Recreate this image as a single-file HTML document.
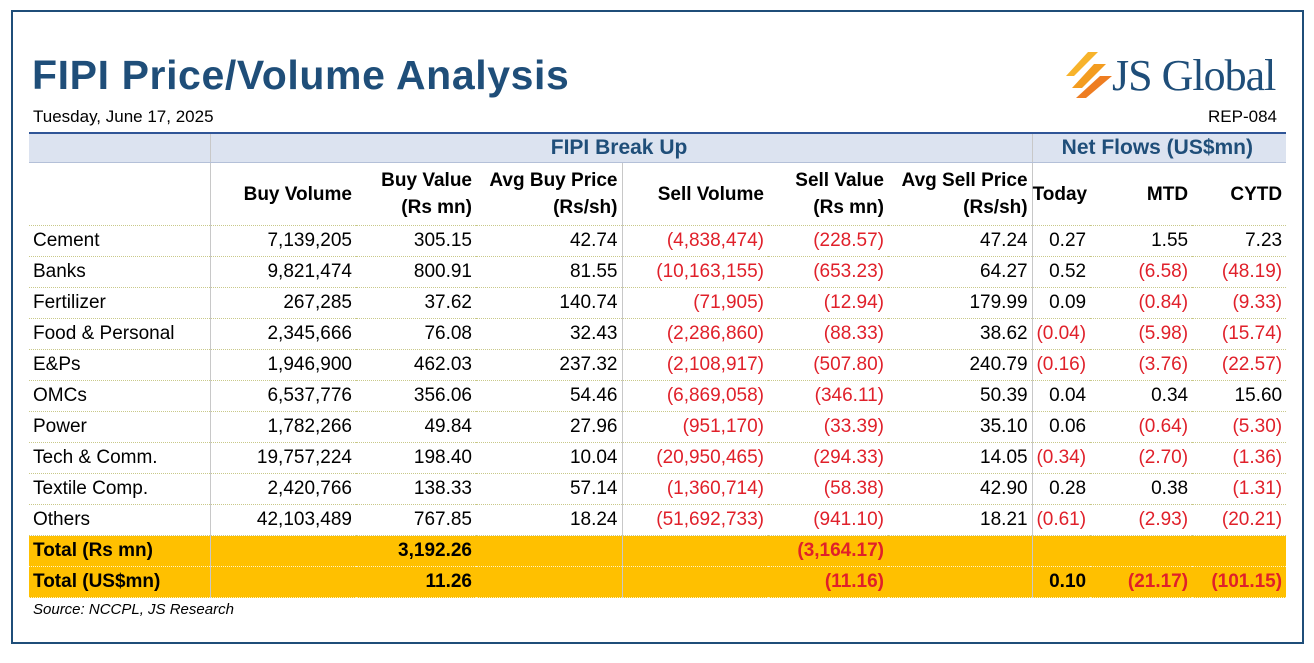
<!DOCTYPE html>
<html><head><meta charset="utf-8"><style>
body{margin:0;width:1314px;height:663px;background:#fff;font-family:"Liberation Sans",sans-serif;position:relative;overflow:hidden}
#frame{position:absolute;left:11px;top:10px;width:1289px;height:630px;border:2px solid #1f4e79}
#title{position:absolute;left:32px;top:52px;font-size:41px;font-weight:bold;color:#1f4e79;letter-spacing:0.6px}
#date{position:absolute;left:33px;top:107px;font-size:17px;color:#000}
#rep{position:absolute;right:37px;top:107px;font-size:17px;color:#000}
#logo{position:absolute;left:1066px;top:50px}
#logotxt{position:absolute;left:1112px;top:50px;font-family:"Liberation Serif",serif;font-size:44px;color:#1f4e79;letter-spacing:-1px}
table{position:absolute;left:29px;top:132px;width:1257px;border-collapse:collapse;table-layout:fixed;font-size:19px}
td{padding:0 4px 0 0;text-align:right;white-space:nowrap;border-bottom:1px dotted #c9c98a;height:30px;overflow:visible}
td.l{text-align:left;padding-left:4px}
.band td{background:#dce3f0;border-top:2px solid #2f5597;border-bottom:1px solid #b4c0d8;height:28px;text-align:center;color:#1f4e79;font-weight:bold;font-size:21px}
.hd td{font-weight:bold;height:62px;line-height:27px;font-size:19px}
.s{border-left:1px solid #c8c8c8}
.r{color:#e0202a}
.tot td{background:#ffc000;font-weight:bold;border-bottom:1px dotted #fff3c0}
#src{position:absolute;left:33px;top:601px;font-size:15px;font-style:italic}
</style></head><body>
<div id="frame"></div>
<div id="title">FIPI Price/Volume Analysis</div>
<div id="date">Tuesday, June 17, 2025</div>
<div id="rep">REP-084</div>
<svg id="logo" width="50" height="50">
<polygon points="22,2 32,2 8,26 0,26" fill="#f7b32b"/>
<polygon points="28,14 40,14 16,38 6,38" fill="#f39c1f"/>
<polygon points="34,26 46,26 20,48 10,48" fill="#ee7d22"/>
</svg>
<div id="logotxt">JS Global</div>
<table>
<colgroup><col style="width:181px"><col style="width:146px"><col style="width:120px"><col style="width:146px"><col style="width:146px"><col style="width:120px"><col style="width:144px"><col style="width:58px"><col style="width:102px"><col style="width:94px"></colgroup>
<tr class="band"><td></td><td class="s" colspan="6">FIPI Break Up</td><td class="s" colspan="3">Net Flows (US$mn)</td></tr>
<tr class="hd"><td></td><td class="s">Buy Volume</td><td>Buy Value<br>(Rs mn)</td><td>Avg Buy Price<br>(Rs/sh)</td><td class="s">Sell Volume</td><td>Sell Value<br>(Rs mn)</td><td>Avg Sell Price<br>(Rs/sh)</td><td class="s">Today</td><td>MTD</td><td>CYTD</td></tr>
<tbody id="body"></tbody>
</table>
<div id="src">Source: NCCPL, JS Research</div>
<script>
const sectors=["Cement","Banks","Fertilizer","Food & Personal","E&Ps","OMCs","Power","Tech & Comm.","Textile Comp.","Others"];
const buyVol=["7,139,205","9,821,474","267,285","2,345,666","1,946,900","6,537,776","1,782,266","19,757,224","2,420,766","42,103,489"];
const buyVal=["305.15","800.91","37.62","76.08","462.03","356.06","49.84","198.40","138.33","767.85"];
const avgBuy=["42.74","81.55","140.74","32.43","237.32","54.46","27.96","10.04","57.14","18.24"];
const sellVol=["(4,838,474)","(10,163,155)","(71,905)","(2,286,860)","(2,108,917)","(6,869,058)","(951,170)","(20,950,465)","(1,360,714)","(51,692,733)"];
const sellVal=["(228.57)","(653.23)","(12.94)","(88.33)","(507.80)","(346.11)","(33.39)","(294.33)","(58.38)","(941.10)"];
const avgSell=["47.24","64.27","179.99","38.62","240.79","50.39","35.10","14.05","42.90","18.21"];
const today=["0.27","0.52","0.09","(0.04)","(0.16)","0.04","0.06","(0.34)","0.28","(0.61)"];
const mtd=["1.55","(6.58)","(0.84)","(5.98)","(3.76)","0.34","(0.64)","(2.70)","0.38","(2.93)"];
const cytd=["7.23","(48.19)","(9.33)","(15.74)","(22.57)","15.60","(5.30)","(1.36)","(1.31)","(20.21)"];
const totals=[["Total (Rs mn)","","3,192.26","","","(3,164.17)","","","",""],["Total (US$mn)","","11.26","","","(11.16)","","0.10","(21.17)","(101.15)"]];
const body=document.getElementById('body');
const sep=[1,4,7];
function cell(tr,v,i){const td=document.createElement('td');td.textContent=v;
if(i===0)td.className='l';if(sep.includes(i))td.classList.add('s');if(v.startsWith('('))td.classList.add('r');


tr.appendChild(td);}
sectors.forEach((s,k)=>{const tr=document.createElement('tr');


[s,buyVol[k],buyVal[k],avgBuy[k],sellVol[k],sellVal[k],avgSell[k],today[k],mtd[k],cytd[k]].forEach((v,i)=>cell(tr,v,i));body.appendChild(tr);});
totals.forEach(r=>{const tr=document.createElement('tr');tr.className='tot';


r.forEach((v,i)=>cell(tr,v,i));body.appendChild(tr);});
</script>
</body></html>
